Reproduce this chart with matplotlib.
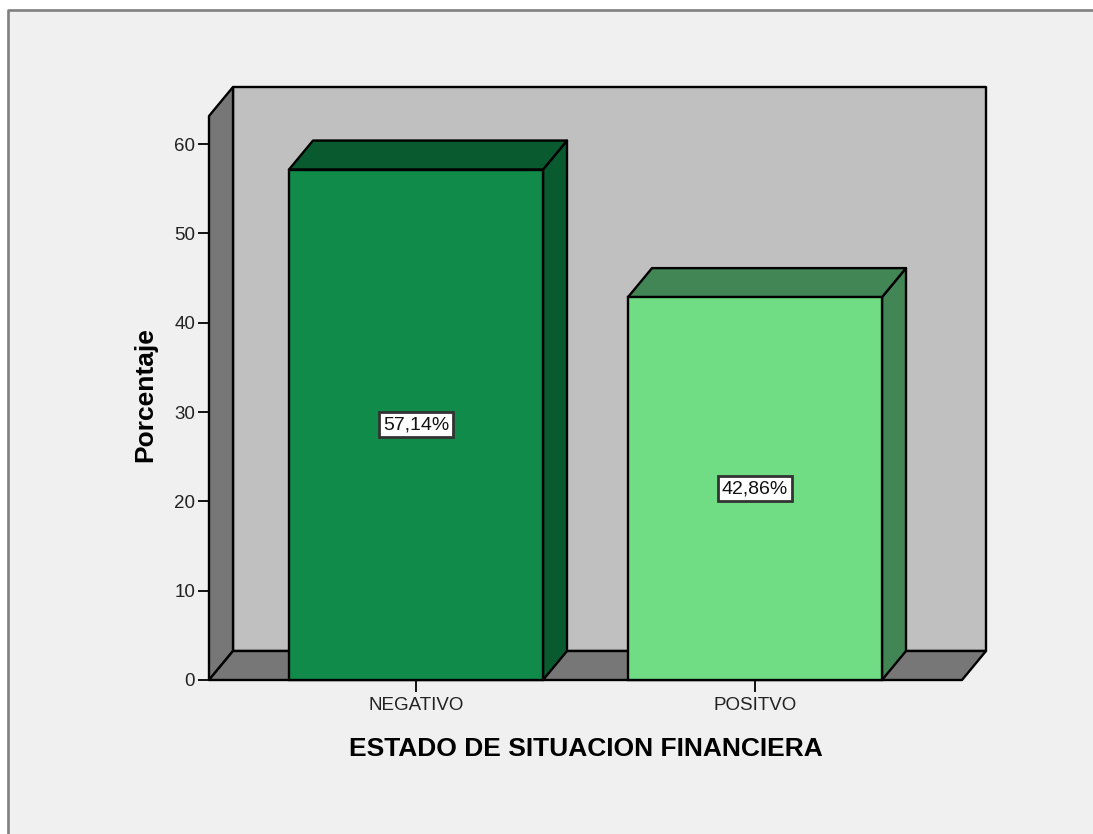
import matplotlib
matplotlib.use('Agg')
import matplotlib.pyplot as plt
from matplotlib.patches import Polygon, Rectangle

categorias = ['NEGATIVO', 'POSITVO']
porcentajes = [57.14, 42.86]
etiquetas = ['57,14%', '42,86%']
ticks_y = [0, 10, 20, 30, 40, 50, 60]
color_frente = ['#108b49', '#70dd84']
color_lado = ['#0a5a2f', '#438655']

plt.rcParams['font.family'] = ['Liberation Sans', 'DejaVu Sans']

W, H = 1093, 834
fig = plt.figure(figsize=(W / 100, H / 100), dpi=100, facecolor='#f0f0f0')

# marco gris de arriba e izquierda, fuera queda blanco
fig.patches.append(Rectangle((0, 0), 8 / W, 1, transform=fig.transFigure, fc='white', ec='none'))
fig.patches.append(Rectangle((0, 1 - 9 / H), 1, 9 / H, transform=fig.transFigure, fc='white', ec='none'))
fig.add_artist(plt.Line2D([8.2 / W, 8.2 / W, 1], [0, 1 - 10 / H, 1 - 10 / H], color='#808080', lw=1.9))

# plano frontal de los ejes en pixeles: x 209-962, y 680-116
ax = fig.add_axes([209 / W, 1 - 680 / H, 753 / W, 564 / H])
ax.set_facecolor('none')
ax.set_xlim(-207 / 339, 1 + 207 / 339)
ax.set_ylim(0, 564 / (536 / 60))
x0, x1 = ax.get_xlim()
y0, y1 = ax.get_ylim()

# profundidad del efecto 3D
dx = 24 / 339
dy = 29 / (536 / 60)
lw = 1.7
pared = '#c0c0c0'
suelo = '#777777'

ax.add_patch(Polygon([(x0 + dx, y0 + dy), (x1 + dx, y0 + dy), (x1 + dx, y1 + dy), (x0 + dx, y1 + dy)],
                     fc=pared, ec='black', lw=lw, clip_on=False, zorder=1, joinstyle='round'))
ax.add_patch(Polygon([(x0, y0), (x0 + dx, y0 + dy), (x0 + dx, y1 + dy), (x0, y1)],
                     fc=suelo, ec='black', lw=lw, clip_on=False, zorder=1.5, joinstyle='round'))
ax.add_patch(Polygon([(x0, y0), (x1, y0), (x1 + dx, y0 + dy), (x0 + dx, y0 + dy)],
                     fc=suelo, ec='black', lw=lw, clip_on=False, zorder=1.5, joinstyle='round'))

ancho = 254 / 339
for i, v in enumerate(porcentajes):
    izq = i - ancho / 2
    der = i + ancho / 2
    ax.bar(i, v, ancho, color=color_frente[i], edgecolor='black', lw=lw, zorder=3, clip_on=False)
    ax.add_patch(Polygon([(der, 0), (der + dx, dy), (der + dx, v + dy), (der, v)],
                         fc=color_lado[i], ec='black', lw=lw, clip_on=False, zorder=2.5, joinstyle='round'))
    ax.add_patch(Polygon([(izq, v), (der, v), (der + dx, v + dy), (izq + dx, v + dy)],
                         fc=color_lado[i], ec='black', lw=lw, clip_on=False, zorder=2.5, joinstyle='round'))
    ax.text(i, v / 2, etiquetas[i], ha='center', va='center', fontsize=14, color='#111111', zorder=5,
            bbox=dict(boxstyle='square,pad=0.2', fc='white', ec='#333333', lw=2))

ax.set_xticks(range(len(categorias)))
ax.set_xticklabels(categorias)
ax.set_yticks(ticks_y)
for lado in ['top', 'right', 'left', 'bottom']:
    ax.spines[lado].set_visible(False)
ax.tick_params(axis='x', length=8.5, width=1.3, labelsize=13.5, pad=4, labelcolor='#222222')
ax.tick_params(axis='y', length=8, width=1.3, labelsize=13.5, pad=2, labelcolor='#222222')

ax.set_xlabel('ESTADO DE SITUACION FINANCIERA', fontsize=19, fontweight='bold', labelpad=16.5)
ax.set_ylabel('Porcentaje', fontsize=19, fontweight='bold', labelpad=12, y=0.506)

fig.savefig('out.png', dpi=100, facecolor=fig.get_facecolor())
